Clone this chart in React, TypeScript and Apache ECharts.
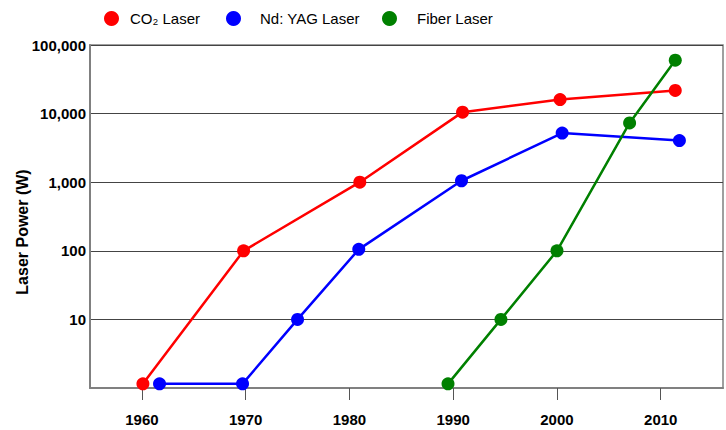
import React, { useEffect, useRef } from "react";
import * as echarts from "echarts";

const yearTicks = [1960, 1970, 1980, 1990, 2000, 2010];

const co2Years = [1960.1, 1969.8, 1981.0, 1990.9, 2000.3, 2011.4];
const co2Power = [1.15, 100, 1000, 10500, 16000, 21800];

const yagYears = [1961.7, 1969.7, 1975.0, 1980.9, 1990.8, 2000.5, 2011.8];
const yagPower = [1.15, 1.15, 10, 105, 1050, 5200, 4050];

const fiberYears = [1989.5, 1994.6, 2000.0, 2007.0, 2011.4];
const fiberPower = [1.15, 10, 100, 7300, 60000];

const seriesNames = ["CO\u2082 Laser", "Nd: YAG Laser", "Fiber Laser"];
const seriesColors = ["#ff0000", "#0000ff", "#008000"];

const FONT = "'Liberation Sans', Arial, Helvetica, sans-serif";

function pairs(xs: number[], ys: number[]) {
  return xs.map((x, i) => [x, ys[i]]);
}

export default function App() {
  const ref = useRef<HTMLDivElement>(null);

  useEffect(() => {
    document.body.style.margin = "0";
    if (!ref.current) return;
    const chart = echarts.init(ref.current, null, { renderer: "svg" });

    const data = [
      pairs(co2Years, co2Power),
      pairs(yagYears, yagPower),
      pairs(fiberYears, fiberPower),
    ];

    const legendLefts = [104, 226, 382];
    const legendPads = [6, 14, 15];

    chart.setOption({
      animation: false,
      backgroundColor: "#ffffff",
      textStyle: { fontFamily: FONT },
      legend: seriesNames.map((n, i) => ({
        data: [{ name: n, icon: "circle" }],
        left: legendLefts[i],
        top: 11,
        padding: 0,
        itemWidth: 15,
        itemHeight: 15,
        textStyle: {
          fontFamily: FONT,
          fontSize: 15,
          color: "#000",
          padding: [0, 0, 0, legendPads[i]],
        },
      })),
      grid: {
        left: 90,
        right: 3,
        top: 45,
        bottom: 42,
        show: true,
        borderColor: "#808080",
        borderWidth: 1.5,
        containLabel: false,
      },
      xAxis: {
        type: "value",
        min: 1955,
        max: 2016,
        splitLine: { show: false },
        axisLine: { show: true, lineStyle: { color: "#808080", width: 2 } },
        axisTick: {
          show: true,
          length: 12,
          customValues: yearTicks,
          lineStyle: { color: "#555", width: 1 },
        },
        axisLabel: {
          customValues: yearTicks,
          margin: 24,
          fontFamily: FONT,
          fontSize: 15,
          fontWeight: "bold",
          color: "#000",
          formatter: (v: number) => String(v),
        },
      },
      yAxis: {
        type: "log",
        logBase: 10,
        min: 1,
        max: 100000,
        axisLine: { show: true, lineStyle: { color: "#808080", width: 2 } },
        axisTick: { show: false },
        splitLine: { show: true, lineStyle: { color: "#444", width: 1 } },
        axisLabel: {
          margin: 4,
          fontFamily: FONT,
          fontSize: 15,
          fontWeight: "bold",
          color: "#000",
          formatter: (v: number) => (v <= 1 ? "" : Math.round(v).toLocaleString("en-US")),
        },
      },
      graphic: [
        {
          type: "text",
          x: 22,
          y: 232,
          rotation: Math.PI / 2,
          style: {
            text: "Laser Power (W)",
            fontFamily: FONT,
            fontSize: 16,
            fontWeight: "bold",
            fill: "#000",
            textAlign: "center",
            textVerticalAlign: "middle",
          },
        },
      ],
      series: seriesNames.map((n, i) => ({
        name: n,
        type: "line",
        data: data[i],
        symbol: "circle",
        symbolSize: 13,
        color: seriesColors[i],
        lineStyle: { width: 2.5, color: seriesColors[i] },
        itemStyle: { color: seriesColors[i] },
        z: 3 + i,
      })),
    });

    return () => chart.dispose();
  }, []);

  return <div ref={ref} style={{ width: 726, height: 430 }} />;
}
